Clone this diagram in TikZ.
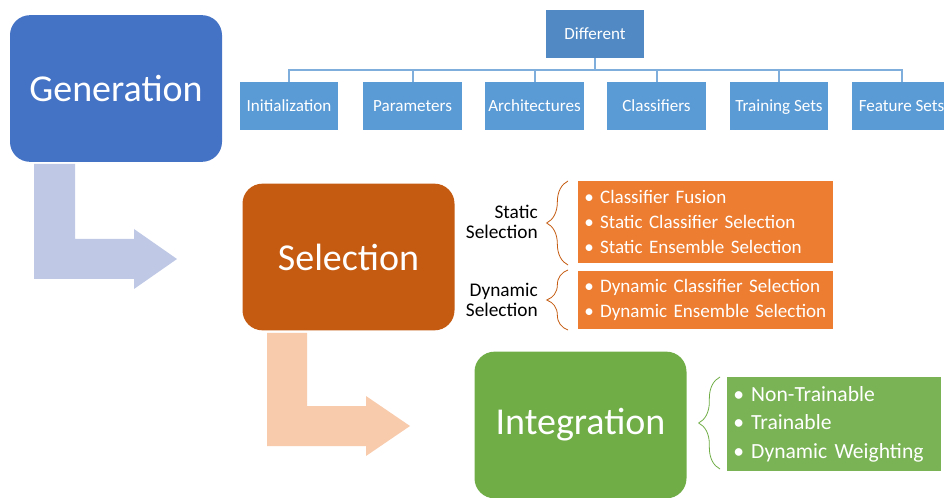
\documentclass[tikz,border=0pt]{standalone}
\usepackage{fontspec}
\setmainfont{Carlito}
\usetikzlibrary{positioning, calc, decorations.pathreplacing}
\definecolor{GenBlue}{HTML}{4472C4}
\definecolor{SelOrange}{HTML}{C55A11}
\definecolor{IntGreen}{HTML}{70AD47}
\definecolor{ListOrange}{HTML}{ED7D31}
\definecolor{ListGreen}{HTML}{7AB356}
\definecolor{TreeTop}{HTML}{5089C3}
\definecolor{TreeLeaf}{HTML}{5B9BD5}
\definecolor{TreeLine}{HTML}{7FAEDD}
\definecolor{ArrowBlue}{HTML}{BFC9E5}
\definecolor{ArrowPeach}{HTML}{F8CBAD}

\tikzset{
  stagebox/.style={rounded corners=15pt, text=white, minimum width=159pt, minimum height=110pt, inner sep=0pt, font=\fontsize{28.5}{32}\selectfont},
  treebox/.style={fill=TreeLeaf, text=white, minimum width=74pt, minimum height=36pt, inner sep=0pt, text height=8.3pt, text depth=0pt, font=\fontsize{12.8}{14}\selectfont},
  listbox/.style={text=white, anchor=north west, align=left, inner xsep=4.5pt, inner ysep=0pt, minimum width=191pt, text width=182pt},
  sidelabel/.style={anchor=east, align=right, inner sep=0pt, font=\fontsize{14.5}{15.5}\selectfont},
  bracemark/.style={draw=#1, line width=0.6pt, decorate, decoration={brace, amplitude=16pt}}
}

\begin{document}
\begin{tikzpicture}[x=0.75pt, y=-0.75pt]
  \useasboundingbox (0,0) rectangle (944,498);

  % bent arrows between the stages
  \fill[ArrowBlue] (34,164) -- (75,164) -- (75,239) -- (134,239) -- (134,229) -- (177,259)
    -- (134,289) -- (134,279) -- (34,279) -- cycle;
  \fill[ArrowPeach] (267,333) -- (307,333) -- (307,406) -- (366,406) -- (366,396) -- (410,426)
    -- (366,456) -- (366,446) -- (267,446) -- cycle;

  % stages
  \node[stagebox, fill=GenBlue] (gen) at (116,88.5) {Generation};
  \node[stagebox, fill=SelOrange] (sel) at (348.5,257) {Selection};
  \node[stagebox, fill=IntGreen] (integ) at (580.5,425) {Integration};

  % generation tree
  \node[treebox, fill=TreeTop] (diff) at (595,34) {Different};
  \foreach \name/\xc/\lbl in {init/289/Initialization, param/412.5/Parameters, arch/534.5/Architectures,
      clf/656.5/Classifiers, train/779/Training Sets, feat/901.5/Feature Sets} {
    \node[treebox] (\name) at (\xc,106) {\lbl};
    \draw[TreeLine, line width=1.5pt] (diff.south) -- ++(0,12) -| (\name.north);
  }

  % selection branches
  \node[sidelabel] (static) at (538,222) {Static\\Selection};
  \node[sidelabel] (dynamic) at (538,300) {Dynamic\\Selection};
  \node[listbox, fill=ListOrange, minimum height=61.5pt, font=\fontsize{14.3}{18.75}\selectfont] (staticlist) at (578,181)
    {• Classifier Fusion\\• Static Classifier Selection\\• Static Ensemble Selection};
  \node[listbox, fill=ListOrange, minimum height=43pt, font=\fontsize{14.3}{18.75}\selectfont] (dynlist) at (578,271)
    {• Dynamic Classifier Selection\\• Dynamic Ensemble Selection};
  \draw[bracemark=SelOrange] (568,265) -- (568,181);
  \draw[bracemark=SelOrange] (568,330) -- (568,270);

  % integration branches
  \node[listbox, fill=ListGreen, minimum width=160pt, text width=151pt, minimum height=70pt, font=\fontsize{16.2}{21.4}\selectfont] (intlist) at (727,377)
    {• Non-Trainable\\• Trainable\\• Dynamic Weighting};
  \draw[bracemark=IntGreen] (720,469) -- (720,377);
\end{tikzpicture}
\end{document}
